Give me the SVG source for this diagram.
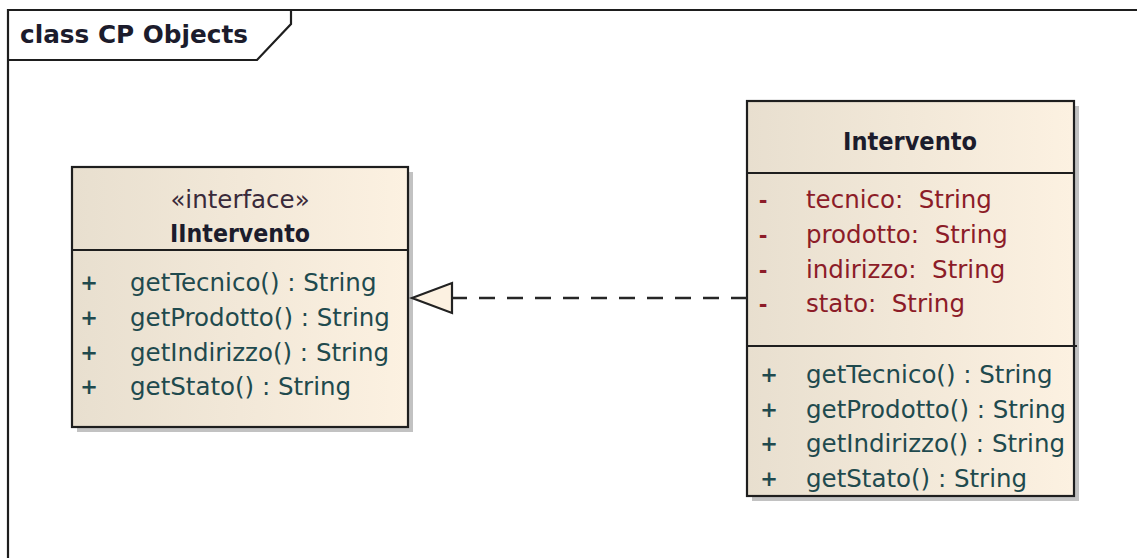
<svg xmlns="http://www.w3.org/2000/svg" width="1137" height="558" viewBox="0 0 1137 558">
<defs>
<linearGradient id="fill" x1="0" y1="0" x2="1" y2="0">
<stop offset="0" stop-color="#e8dfcf"/>
<stop offset="1" stop-color="#fcf1e1"/>
</linearGradient>
</defs>
<style>
.box{fill:url(#fill);stroke:#1e1e1e;stroke-width:2.2}
.shadow{fill:#c2c2c2}
.sep{stroke:#1e1e1e;stroke-width:2.2}
text{font-family:"DejaVu Sans","Liberation Sans",sans-serif;font-size:24.5px}
.bold{font-weight:bold;fill:#1c1c2c}
.st{fill:#3a2a3a}
.m{fill:#1f4a4e}
.a{fill:#8c1c28}
.vis{font-size:21px;font-weight:bold}
.conn{stroke:#262626;stroke-width:2.4;fill:none}
</style>
<rect width="1137" height="558" fill="#ffffff"/>
<g id="frame">
<path d="M8,558 L8,10 L1137,10" fill="none" stroke="#1e1e1e" stroke-width="2.2"/>
<path d="M8,60 L257,60 L291,24 L291,10" fill="none" stroke="#1e1e1e" stroke-width="2.2"/>
<text class="bold" x="20" y="43" textLength="228" lengthAdjust="spacingAndGlyphs">class CP Objects</text>
</g>
<g id="IIntervento">
<rect class="shadow" x="77" y="172" width="336" height="260"/>
<rect class="box" x="72" y="167" width="336" height="260"/>
<line class="sep" x1="72" y1="250" x2="408" y2="250"/>
<text class="st" x="240" y="208" text-anchor="middle">«interface»</text>
<text class="bold" x="240" y="242" text-anchor="middle" textLength="140" lengthAdjust="spacingAndGlyphs">IIntervento</text>
<text class="m vis" x="89" y="290" text-anchor="middle">+</text>
<text class="m vis" x="89" y="325" text-anchor="middle">+</text>
<text class="m vis" x="89" y="360" text-anchor="middle">+</text>
<text class="m vis" x="89" y="394" text-anchor="middle">+</text>
<text class="m" x="130" y="291">getTecnico() : String</text>
<text class="m" x="130" y="326">getProdotto() : String</text>
<text class="m" x="130" y="361">getIndirizzo() : String</text>
<text class="m" x="130" y="395">getStato() : String</text>
</g>
<g id="Intervento">
<rect class="shadow" x="752" y="106" width="327" height="395"/>
<rect class="box" x="747" y="101" width="327" height="395"/>
<line class="sep" x1="747" y1="173" x2="1074" y2="173"/>
<line class="sep" x1="747" y1="346" x2="1077" y2="346"/>
<text class="bold" x="910" y="150" text-anchor="middle" textLength="134" lengthAdjust="spacingAndGlyphs">Intervento</text>
<text class="a vis" x="763" y="208" text-anchor="middle">-</text>
<text class="a vis" x="763" y="243" text-anchor="middle">-</text>
<text class="a vis" x="763" y="278" text-anchor="middle">-</text>
<text class="a vis" x="763" y="312" text-anchor="middle">-</text>
<text class="a" x="806" y="208" xml:space="preserve">tecnico:  String</text>
<text class="a" x="806" y="243" xml:space="preserve">prodotto:  String</text>
<text class="a" x="806" y="278" xml:space="preserve">indirizzo:  String</text>
<text class="a" x="806" y="312" xml:space="preserve">stato:  String</text>
<text class="m vis" x="769" y="382" text-anchor="middle">+</text>
<text class="m vis" x="769" y="417" text-anchor="middle">+</text>
<text class="m vis" x="769" y="451" text-anchor="middle">+</text>
<text class="m vis" x="769" y="486" text-anchor="middle">+</text>
<text class="m" x="806" y="383">getTecnico() : String</text>
<text class="m" x="806" y="418">getProdotto() : String</text>
<text class="m" x="806" y="452">getIndirizzo() : String</text>
<text class="m" x="806" y="487">getStato() : String</text>
</g>
<g id="connectors">
<line class="conn" x1="747" y1="298" x2="452" y2="298" stroke-dasharray="16 12"/>
<polygon points="412,298 452,283 452,313" fill="#fcf1e1" stroke="#222" stroke-width="2.2" stroke-linejoin="miter"/>
</g>
</svg>
